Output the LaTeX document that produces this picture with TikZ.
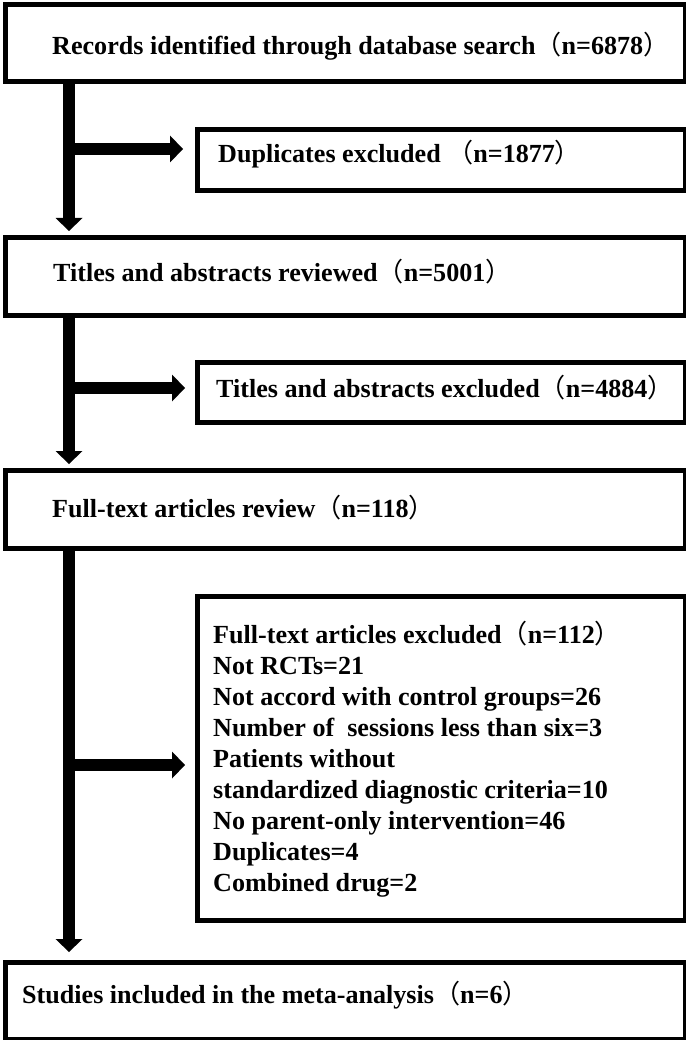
\documentclass[tikz,border=0pt]{standalone}
\usepackage{fontspec}
\setmainfont{Liberation Serif}
\newfontfamily\cjkfont{Noto Sans CJK SC}
\usetikzlibrary{arrows.meta}
\newcommand{\lpar}{{\cjkfont\mdseries （}}
\newcommand{\rpar}{{\cjkfont\mdseries ）}}
\begin{document}
\begin{tikzpicture}[x=1pt,y=-1pt,
  box/.style={draw=black, line width=5pt, inner sep=0pt, anchor=north west, rectangle},
  txt/.style={anchor=base west, inner sep=0pt, font=\fontsize{26.1}{31}\selectfont\bfseries},
  flow/.style={draw=black, line width=12pt, -{Triangle[length=13pt,width=27pt,line width=0pt]}}]
\useasboundingbox (0,0) rectangle (685,1040);
% boxes
\node[box, minimum width=680pt, minimum height=77pt] (b1) at (2.5,2.5) {};
\node[box, minimum width=487.5pt, minimum height=61pt] (d1) at (195,127) {};
\node[box, minimum width=680pt, minimum height=78pt] (b2) at (2.5,235) {};
\node[box, minimum width=487.5pt, minimum height=60pt] (d2) at (195,360) {};
\node[box, minimum width=680pt, minimum height=78pt] (b3) at (2.5,468) {};
\node[box, minimum width=487.5pt, minimum height=324pt] (d3) at (195,594) {};
\node[box, minimum width=680pt, minimum height=77pt] (b4) at (2.5,960) {};
% texts
\node[txt] (t1) at (52,55) {Records identified through database search\lpar n=6878\rpar};
\node[txt] (t2) at (218,163) {Duplicates excluded \lpar n=1877\rpar};
\node[txt] (t3) at (53,282) {Titles and abstracts reviewed\lpar n=5001\rpar};
\node[txt] (t4) at (216,397) {Titles and abstracts excluded\lpar n=4884\rpar};
\node[txt] (t5) at (52,517) {Full-text articles review\lpar n=118\rpar};
\foreach \t [count=\i] in {{Full-text articles excluded\lpar n=112\rpar},
  {Not RCTs=21},
  {Not accord with control groups=26},
  {Number of~ sessions less than six=3},
  {Patients without},
  {standardized diagnostic criteria=10},
  {No parent-only intervention=46},
  {Duplicates=4},
  {Combined drug=2}}
  \node[txt] (ex\i) at (213,{643+31.1*(\i-1)}) {\t};
\node[txt] (t6) at (22,1003) {Studies included in the meta-analysis\lpar n=6\rpar};
% connectors
\coordinate (tx) at (69,0);
\coordinate (j1) at (69,149);
\coordinate (j2) at (69,388);
\coordinate (j3) at (69,765);
\draw[flow, shorten >=4pt] (b1.south -| tx) -- (b2.north -| tx);
\draw[flow, shorten >=4pt] (b2.south -| tx) -- (b3.north -| tx);
\draw[flow, shorten >=8pt] (b3.south -| tx) -- (b4.north -| tx);
\draw[flow, shorten >=12pt] (j1) -- (j1 -| d1.west);
\draw[flow, shorten >=10pt] (j2) -- (j2 -| d2.west);
\draw[flow, shorten >=10pt] (j3) -- (j3 -| d3.west);
\end{tikzpicture}
\end{document}
